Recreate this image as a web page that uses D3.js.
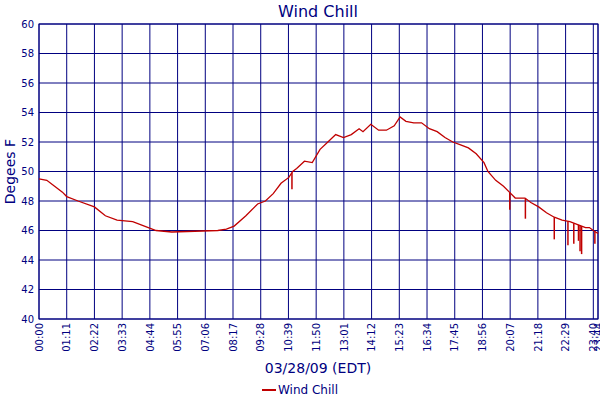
<!DOCTYPE html>
<html><head><meta charset="utf-8">
<script src="https://cdn.jsdelivr.net/npm/d3@7"></script>
<style>body{margin:0;background:#fff}text{font-family:"DejaVu Sans",Verdana,sans-serif}</style>
</head><body><svg id="c" width="600" height="400"></svg>
<script>
const times=[0,20,40,60,71,100,142,170,200,240,270,300,340,458,480,500,530,560,580,600,620,640,650,660,680,700,720,740,760,780,800,820,830,850,870,890,910,925,940,960,980,1000,1020,1040,1060,1080,1100,1120,1140,1150,1170,1190,1205,1220,1245,1260,1280,1300,1320,1340,1360,1380,1400,1410,1420,1432];
const values=[49.5,49.4,49.0,48.6,48.3,48.0,47.6,47.0,46.7,46.6,46.3,46.0,45.9,46.0,46.1,46.3,47.0,47.8,48.0,48.5,49.2,49.6,50.0,50.2,50.7,50.6,51.5,52.0,52.5,52.3,52.5,52.9,52.7,53.2,52.8,52.8,53.1,53.7,53.4,53.3,53.3,52.9,52.7,52.3,52.0,51.8,51.6,51.2,50.6,50.0,49.4,49.0,48.6,48.2,48.2,47.9,47.6,47.2,46.9,46.7,46.6,46.4,46.2,46.2,46.0,45.8];
const spikeTimes=[648,1206,1246,1320,1355,1370,1382,1386,1390,1424];
const spikeLows=[48.8,47.4,46.8,45.4,45.0,45.1,45.3,44.6,44.4,45.1];
const xTickLabels=["00:00","01:11","02:22","03:33","04:44","05:55","07:06","08:17","09:28","10:39","11:50","13:01","14:12","15:23","16:34","17:45","18:56","20:07","21:18","22:29","23:40","23:44"];
const xTickVals=[0,71,142,213,284,355,426,497,568,639,710,781,852,923,994,1065,1136,1207,1278,1349,1420,1432];
const yTicks=[40,42,44,46,48,50,52,54,56,58,60];
const navy="#000080",red="#c00000";
const svg=d3.select("#c");
const L=39,R=598,T=24,B=319;
const x=d3.scaleLinear().domain([0,1432]).range([L,R]);
const y=d3.scaleLinear().domain([40,60]).range([B,T]);
const g=svg.append("g");
g.selectAll(".vx").data(xTickVals).join("line").attr("x1",d=>x(d)).attr("x2",d=>x(d)).attr("y1",T).attr("y2",B).attr("stroke",navy);
g.selectAll(".hy").data(yTicks).join("line").attr("x1",L).attr("x2",R).attr("y1",d=>y(d)).attr("y2",d=>y(d)).attr("stroke",navy);
svg.append("rect").attr("x",L).attr("y",T).attr("width",R-L).attr("height",B-T).attr("fill","none").attr("stroke",navy);
const ya=svg.append("g").attr("transform",`translate(${L},0)`).call(d3.axisLeft(y).tickValues(yTicks).tickSize(0).tickPadding(5));
ya.select(".domain").remove();
ya.selectAll("text").attr("fill",navy).style("font-size","10px");
const xa=svg.append("g").attr("transform",`translate(0,${B})`).call(d3.axisBottom(x).tickValues(xTickVals).tickFormat((d,i)=>xTickLabels[i]).tickSize(0));
xa.select(".domain").remove();
xa.selectAll("text").attr("fill",navy).style("font-size","10px").attr("text-anchor","end").attr("transform","rotate(-90)").attr("dx","-4").attr("dy","0.32em").attr("x",0).attr("y",0);
const data=times.map((t,i)=>[t,values[i]]);
svg.append("path").datum(data).attr("fill","none").attr("stroke",red).attr("stroke-width",1.3)
 .attr("d",d3.line().x(d=>x(d[0])).y(d=>y(d[1])));
const interp=d3.scaleLinear().domain(times).range(values);
svg.selectAll(".sp").data(spikeTimes).join("line").attr("stroke",red).attr("stroke-width",1.5)
 .attr("x1",d=>x(d)).attr("x2",d=>x(d)).attr("y1",d=>y(interp(d))).attr("y2",(d,i)=>y(spikeLows[i]));
svg.append("text").attr("x",318).attr("y",17).attr("text-anchor","middle").attr("fill",navy).style("font-size","16px").text("Wind Chill");
svg.append("text").attr("transform",`translate(15,${(T+B)/2}) rotate(-90)`).attr("text-anchor","middle").attr("fill",navy).style("font-size","14px").text("Degees F");
svg.append("text").attr("x",318).attr("y",373).attr("text-anchor","middle").attr("fill",navy).style("font-size","14px").text("03/28/09 (EDT)");
svg.append("line").attr("x1",262).attr("x2",276).attr("y1",390).attr("y2",390).attr("stroke",red).attr("stroke-width",2);
svg.append("text").attr("x",278).attr("y",394).attr("fill",navy).style("font-size","12px").text("Wind Chill");
</script></body></html>
